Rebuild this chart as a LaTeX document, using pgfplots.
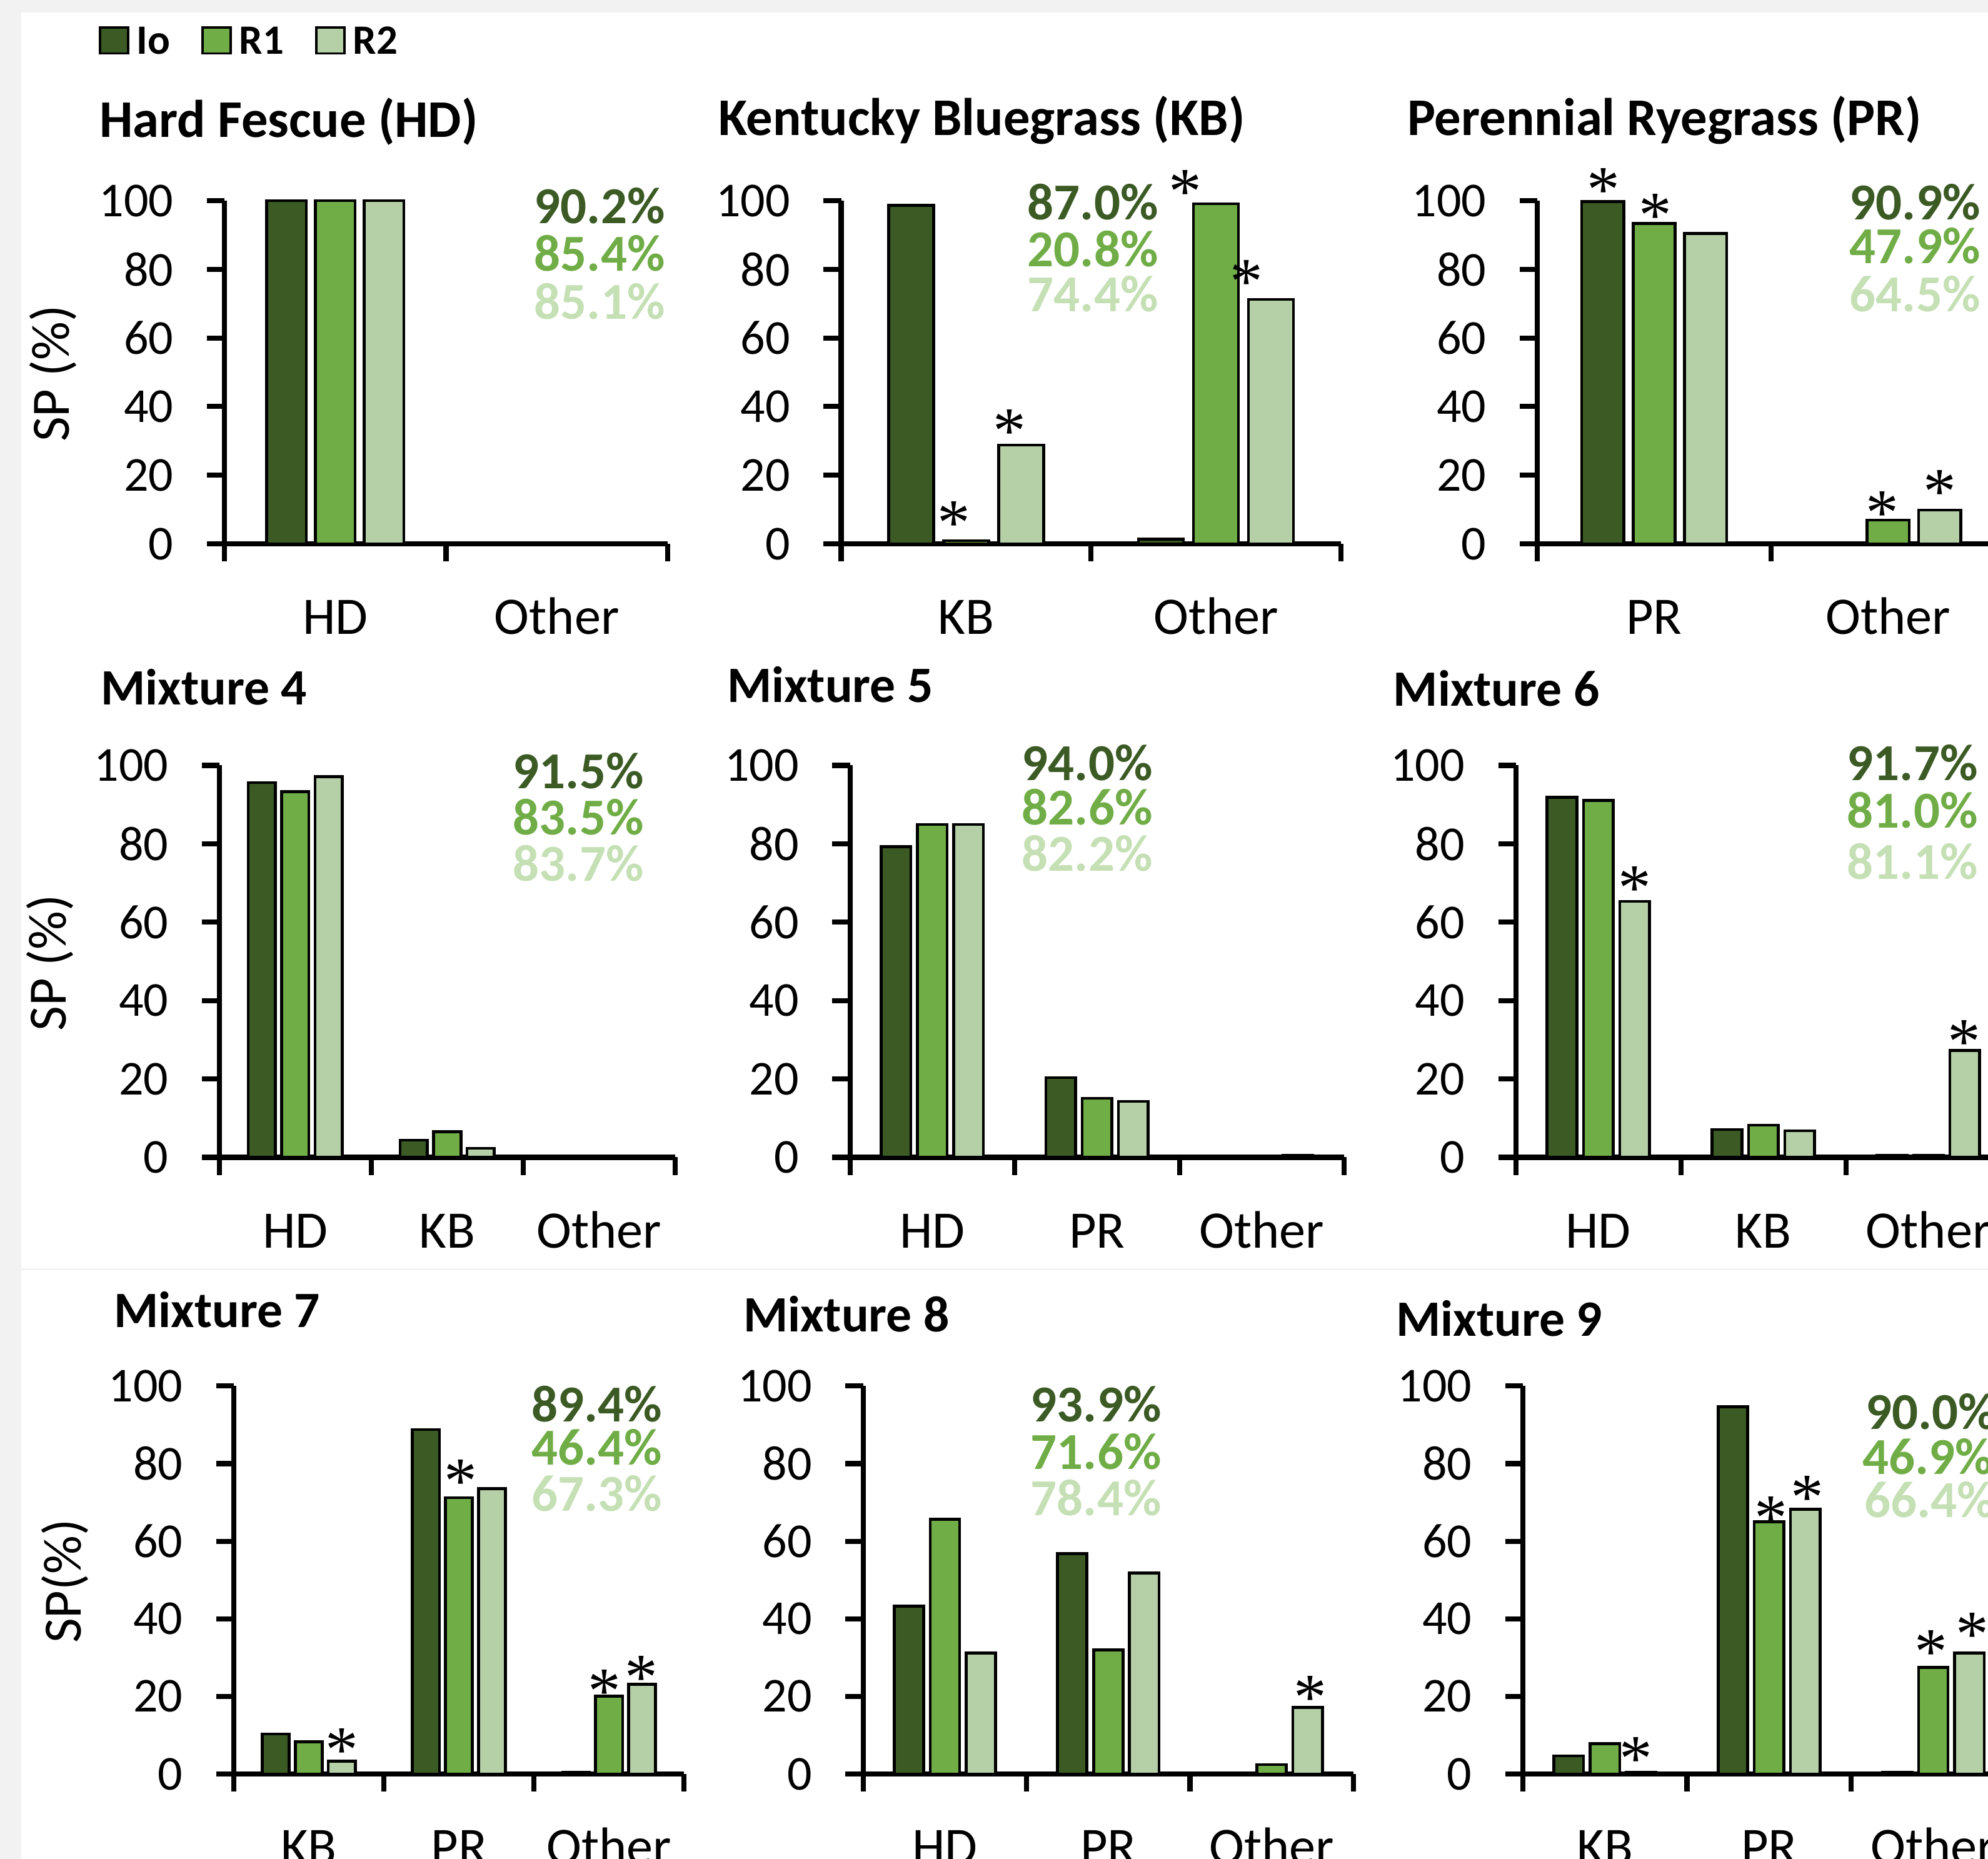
\documentclass[border=0pt]{standalone}
\usepackage{fontspec}
\setmainfont{Carlito}
\newfontfamily\astfam{Liberation Serif}
\usepackage{pgfplots}
\pgfplotsset{compat=1.18}
\definecolor{ioC}{HTML}{3B5A24}
\definecolor{rOneC}{HTML}{70AD47}
\definecolor{rTwoC}{HTML}{B5CFA7}
\definecolor{rTwoT}{HTML}{C5E0B4}
\definecolor{bgG}{HTML}{F2F2F2}
\newcommand\tickfont{\fontsize{11.1}{12}\selectfont}
\newcommand\catfont{\fontsize{12}{13}\selectfont}
\newcommand\pctfont{\fontsize{11.8}{12}\selectfont\bfseries}
\newcommand\legfont{\fontsize{9.5}{10}\selectfont\bfseries}
\newcommand\ylabfont{\fontsize{12.3}{13}\selectfont}
\newcommand\astfont{\astfam\fontsize{15}{15}\selectfont}
\newcommand\titA{\fontsize{12.05}{13}\selectfont\bfseries}
\newcommand\titB{\fontsize{11.6}{12}\selectfont\bfseries}
\pgfplotsset{
  panel/.style={
    scale only axis, anchor=south west, clip=false,
    axis x line*=bottom, axis y line*=left,
    axis line style={-, line width=1.15pt, black},
    ymin=0, ymax=100, ytick={0,20,40,60,80,100},
    yticklabels={0,20,40,60,80,100},
    xmin=-0.5,
    tick align=outside, major tick length=4pt,
    tick style={black, line width=1.15pt},
    yticklabel style={font=\tickfont, anchor=east, inner sep=0pt, xshift=-7.4pt},
    xticklabels={},
    extra x tick style={major tick length=0pt,
      xticklabel style={font=\catfont, anchor=base, inner sep=0pt, yshift=-20.6pt}},
  },
  legbox/.style={legend image code/.code={\draw[##1, line width=0.5pt] (0cm,-0.1035cm) rectangle (0.225cm,0.104cm);}},
  sio/.style={ybar, bar width=0.18, bar shift=-0.22, fill=ioC, draw=black, line width=0.65pt, legbox},
  sra/.style={ybar, bar width=0.18, bar shift=0, fill=rOneC, draw=black, line width=0.65pt, legbox},
  srb/.style={ybar, bar width=0.18, bar shift=0.22, fill=rTwoC, draw=black, line width=0.65pt, legbox},
}
\tikzset{ast/.style={font=\astfont, anchor=base, inner sep=0pt, yshift=-7.2pt},
  pct/.style={anchor=base east, font=\pctfont, inner sep=0pt},
  pctw/.style={anchor=base west, font=\pctfont, inner sep=0pt},
  ttl/.style={anchor=base west, inner sep=0pt}}
\begin{document}
\begin{tikzpicture}
\useasboundingbox (0,0) rectangle (15.9,14.87);
\clip (0,0) rectangle (15.9,14.87);
\fill[bgG] (0,0) rectangle (15.9,14.87);
\fill[white] (0.17,0) rectangle (15.9,14.77);
\draw[bgG, line width=0.015cm] (0.17,4.715) -- (15.9,4.715);

% ---------------- Row 1 ----------------
\begin{axis}[panel, at={(1.795cm,10.52cm)}, width=3.545cm, height=2.745cm,
  xmax=1.5, xtick={-0.5,0.5,1.5}, extra x ticks={0,1}, extra x tick labels={HD,Other},
  legend columns=-1,
  legend style={at={(-0.2835,1.5075)}, anchor=north west, draw=none, fill=none,
    inner sep=0pt, outer sep=0pt, font=\legfont,
    nodes={inner sep=0pt, text depth=0pt, font=\legfont},
    /tikz/every odd column/.append style={column sep=0.06cm},
    /tikz/every even column/.append style={column sep=0.25cm}}]
\addplot[sio] coordinates {(0,100) (1,0)}; \addlegendentry{Io}
\addplot[sra] coordinates {(0,100) (1,0)}; \addlegendentry{R1}
\addplot[srb] coordinates {(0,100) (1,0)}; \addlegendentry{R2}
\end{axis}

\begin{axis}[panel, at={(6.7275cm,10.52cm)}, width=3.9975cm, height=2.745cm,
  xmax=1.5, xtick={-0.5,0.5,1.5}, extra x ticks={0,1}, extra x tick labels={KB,Other}]
\addplot[sio] coordinates {(0,98.6) (1,1.4)};
\addplot[sra] coordinates {(0,0.9) (1,99.1)};
\addplot[srb] coordinates {(0,28.8) (1,71.2)};
\node[ast] at (axis cs:-0.049,9.0) {*};
\node[ast] at (axis cs:0.175,35.7) {*};
\node[ast] at (axis cs:0.877,105.4) {*};
\node[ast] at (axis cs:1.122,79.3) {*};
\end{axis}

\begin{axis}[panel, at={(12.2935cm,10.52cm)}, width=3.745cm, height=2.745cm,
  xmax=1.5, xtick={-0.5,0.5,1.5}, extra x ticks={0,1}, extra x tick labels={PR,Other}]
\addplot[sio] coordinates {(0,99.7) (1,0.3)};
\addplot[sra] coordinates {(0,93.3) (1,6.9)};
\addplot[srb] coordinates {(0,90.4) (1,9.8)};
\node[ast] at (axis cs:-0.216,106.1) {*};
\node[ast] at (axis cs:0.005,98.6) {*};
\node[ast] at (axis cs:0.973,11.9) {*};
\node[ast] at (axis cs:1.219,18.0) {*};
\end{axis}

% ---------------- Row 2 ----------------
\begin{axis}[panel, at={(1.7535cm,5.6125cm)}, width=3.6465cm, height=3.135cm,
  xmax=2.5, xtick={-0.5,0.5,1.5,2.5}, extra x ticks={0,1,2}, extra x tick labels={HD,KB,Other}]
\addplot[sio] coordinates {(0,95.6) (1,4.4) (2,0)};
\addplot[sra] coordinates {(0,93.3) (1,6.5) (2,0)};
\addplot[srb] coordinates {(0,97.1) (1,2.3) (2,0)};
\end{axis}

\begin{axis}[panel, at={(6.798cm,5.6125cm)}, width=3.952cm, height=3.135cm,
  xmax=2.5, xtick={-0.5,0.5,1.5,2.5}, extra x ticks={0,1,2}, extra x tick labels={HD,PR,Other}]
\addplot[sio] coordinates {(0,79.3) (1,20.3) (2,0)};
\addplot[sra] coordinates {(0,84.9) (1,15.1) (2,0)};
\addplot[srb] coordinates {(0,84.9) (1,14.3) (2,0.5)};
\end{axis}

\begin{axis}[panel, at={(12.123cm,5.6125cm)}, width=3.96cm, height=3.135cm,
  xmax=2.5, xtick={-0.5,0.5,1.5,2.5}, extra x ticks={0,1,2}, extra x tick labels={HD,KB,Other}]
\addplot[sio] coordinates {(0,91.9) (1,7.1) (2,0.5)};
\addplot[sra] coordinates {(0,91.1) (1,8.2) (2,0.5)};
\addplot[srb] coordinates {(0,65.3) (1,6.8) (2,27.3)};
\node[ast] at (axis cs:0.2216,71.2) {*};
\node[ast] at (axis cs:2.217,32.0) {*};
\end{axis}

% ---------------- Row 3 ----------------
\begin{axis}[panel, at={(1.8695cm,0.68cm)}, width=3.602cm, height=3.103cm,
  xmax=2.5, xtick={-0.5,0.5,1.5,2.5}, extra x ticks={0,1,2}, extra x tick labels={KB,PR,Other}]
\addplot[sio] coordinates {(0,10.3) (1,88.8) (2,0.5)};
\addplot[sra] coordinates {(0,8.3) (1,71.2) (2,20.1)};
\addplot[srb] coordinates {(0,3.3) (1,73.6) (2,23.1)};
\node[ast] at (axis cs:0.222,8.7) {*};
\node[ast] at (axis cs:1.0106,78.0) {*};
\node[ast] at (axis cs:1.969,23.9) {*};
\node[ast] at (axis cs:2.214,27.4) {*};
\end{axis}

\begin{axis}[panel, at={(6.903cm,0.68cm)}, width=3.9215cm, height=3.103cm,
  xmax=2.5, xtick={-0.5,0.5,1.5,2.5}, extra x ticks={0,1,2}, extra x tick labels={HD,PR,Other}]
\addplot[sio] coordinates {(0,43.3) (1,56.8) (2,0)};
\addplot[sra] coordinates {(0,65.7) (1,32.0) (2,2.4)};
\addplot[srb] coordinates {(0,31.2) (1,51.8) (2,17.2)};
\node[ast] at (axis cs:2.236,22.2) {*};
\end{axis}

\begin{axis}[panel, at={(12.179cm,0.68cm)}, width=3.94cm, height=3.103cm,
  xmax=2.5, xtick={-0.5,0.5,1.5,2.5}, extra x ticks={0,1,2}, extra x tick labels={KB,PR,Other}]
\addplot[sio] coordinates {(0,4.7) (1,94.7) (2,0.5)};
\addplot[sra] coordinates {(0,7.8) (1,65.0) (2,27.5)};
\addplot[srb] coordinates {(0,0.5) (1,68.2) (2,31.2)};
\node[ast] at (axis cs:0.1875,6.5) {*};
\node[ast] at (axis cs:1.0128,68.5) {*};
\node[ast] at (axis cs:1.233,73.8) {*};
\node[ast] at (axis cs:1.988,34.0) {*};
\node[ast] at (axis cs:2.238,38.5) {*};
\end{axis}

% ---------------- Titles ----------------
\node[ttl, font=\titA] at (0.79,13.77) {Hard Fescue (HD)};
\node[ttl, font=\titA] at (5.7385,13.7855) {Kentucky Bluegrass (KB)};
\node[ttl, font=\titA] at (11.249,13.7855) {Perennial Ryegrass (PR)};
\node[ttl, font=\titB] at (0.8,9.232) {Mixture 4};
\node[ttl, font=\titB] at (5.8085,9.25) {Mixture 5};
\node[ttl, font=\titB] at (11.1375,9.2225) {Mixture 6};
\node[ttl, font=\titB] at (0.905,4.25) {Mixture 7};
\node[ttl, font=\titB] at (5.9385,4.2175) {Mixture 8};
\node[ttl, font=\titB] at (11.16,4.18) {Mixture 9};

% ---------------- y labels ----------------
\node[rotate=90, font=\ylabfont, inner sep=0pt] at (0.425,11.8815) {SP (\%)};
\node[rotate=90, font=\ylabfont, inner sep=0pt] at (0.398,7.1675) {SP (\%)};
\node[rotate=90, font=\ylabfont, inner sep=0pt] at (0.5175,2.222) {SP(\%)};

% ---------------- percentages ----------------
\node[pct, text=ioC] at (5.325,13.08) {90.2\%};
\node[pct, text=rOneC] at (5.325,12.70) {85.4\%};
\node[pct, text=rTwoT] at (5.325,12.315) {85.1\%};

\node[pct, text=ioC] at (9.27,13.11) {87.0\%};
\node[pct, text=rOneC] at (9.27,12.7375) {20.8\%};
\node[pct, text=rTwoT] at (9.27,12.375) {74.4\%};

\node[pct, text=ioC] at (15.845,13.11) {90.9\%};
\node[pct, text=rOneC] at (15.845,12.76) {47.9\%};
\node[pct, text=rTwoT] at (15.845,12.377) {64.5\%};

\node[pct, text=ioC] at (5.155,8.563) {91.5\%};
\node[pct, text=rOneC] at (5.155,8.1935) {83.5\%};
\node[pct, text=rTwoT] at (5.155,7.8235) {83.7\%};

\node[pct, text=ioC] at (9.225,8.627) {94.0\%};
\node[pct, text=rOneC] at (9.225,8.27) {82.6\%};
\node[pct, text=rTwoT] at (9.225,7.9015) {82.2\%};

\node[pct, text=ioC] at (15.825,8.627) {91.7\%};
\node[pct, text=rOneC] at (15.825,8.2475) {81.0\%};
\node[pct, text=rTwoT] at (15.825,7.836) {81.1\%};

\node[pct, text=ioC] at (5.3035,3.4975) {89.4\%};
\node[pct, text=rOneC] at (5.3035,3.15) {46.4\%};
\node[pct, text=rTwoT] at (5.3035,2.783) {67.3\%};

\node[pct, text=ioC] at (9.295,3.4975) {93.9\%};
\node[pct, text=rOneC] at (9.295,3.1185) {71.6\%};
\node[pct, text=rTwoT] at (9.295,2.749) {78.4\%};

\node[pctw, text=ioC] at (14.915,3.435) {90.0\%};
\node[pctw, text=rOneC] at (14.89,3.075) {46.9\%};
\node[pctw, text=rTwoT] at (14.905,2.73) {66.4\%};
\end{tikzpicture}
\end{document}
